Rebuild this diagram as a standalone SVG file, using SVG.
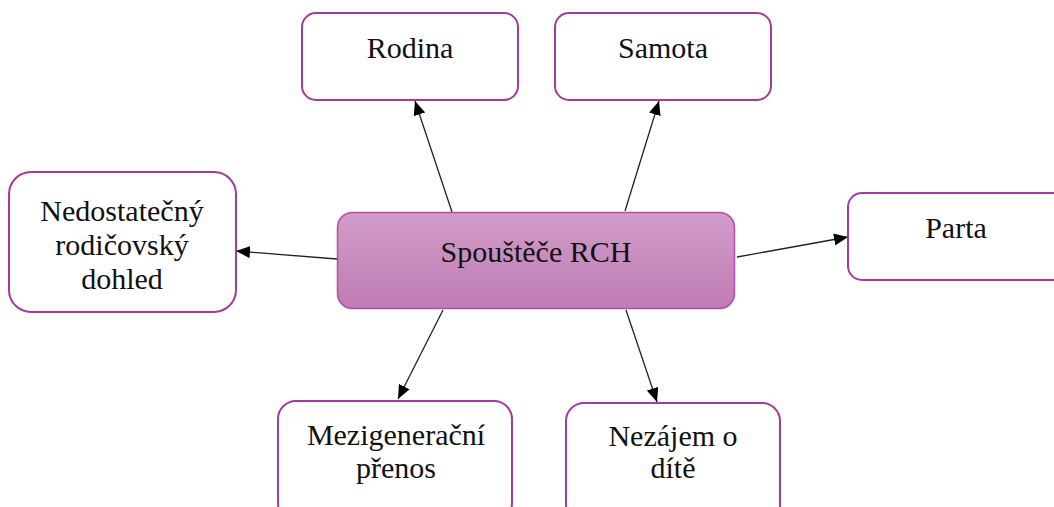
<svg xmlns="http://www.w3.org/2000/svg" width="1054" height="507" viewBox="0 0 1054 507">
<defs>
<linearGradient id="g" x1="0" y1="0" x2="0" y2="1">
<stop offset="0" stop-color="#D09CC9"/>
<stop offset="1" stop-color="#C07CB3"/>
</linearGradient>
<marker id="ah" markerWidth="14" markerHeight="12" refX="14" refY="6" orient="auto" markerUnits="userSpaceOnUse">
<path d="M0,0 L14,6 L0,12 Z" fill="#000"/>
</marker>
<style>
.box{fill:#fff;stroke:#A23B9F;stroke-width:2}
.main{fill:url(#g);stroke:#B04FA8;stroke-width:1.5}
text{font-family:"Liberation Serif","Times New Roman",serif;font-size:30px;fill:#111;text-anchor:middle}
.c{stroke:#222;stroke-width:1.3;fill:none;marker-end:url(#ah)}
</style>
</defs>
<rect width="1054" height="507" fill="#fff"/>
<g id="connectors">
<line class="c" x1="452" y1="212" x2="415" y2="101"/>
<line class="c" x1="625" y1="211" x2="659" y2="101"/>
<line class="c" x1="337" y1="259" x2="236" y2="251"/>
<line class="c" x1="737" y1="257" x2="848" y2="237"/>
<line class="c" x1="443" y1="310" x2="398" y2="399"/>
<line class="c" x1="626" y1="310" x2="657" y2="402"/>
</g>
<g id="main">
<rect class="main" x="337.5" y="212.5" width="397" height="96" rx="15"/>
<text x="536" y="262">Spouštěče RCH</text>
</g>
<g id="rodina">
<rect class="box" x="302" y="13" width="216" height="87" rx="14"/>
<text x="410" y="58">Rodina</text>
</g>
<g id="samota">
<rect class="box" x="555" y="13" width="216" height="87" rx="14"/>
<text x="663" y="58">Samota</text>
</g>
<g id="nedostatecny">
<rect class="box" x="9" y="172" width="227" height="140" rx="22"/>
<text x="122" y="221">Nedostatečný</text>
<text x="122" y="255">rodičovský</text>
<text x="122" y="289">dohled</text>
</g>
<g id="parta">
<rect class="box" x="848" y="193" width="220" height="87" rx="14"/>
<text x="956" y="238">Parta</text>
</g>
<g id="mezigeneracni">
<rect class="box" x="278" y="401" width="234" height="120" rx="18"/>
<text x="396" y="445">Mezigenerační</text>
<text x="396" y="478">přenos</text>
</g>
<g id="nezajem">
<rect class="box" x="566" y="403" width="214" height="120" rx="18"/>
<text x="673" y="446">Nezájem o</text>
<text x="673" y="478">dítě</text>
</g>
</svg>
